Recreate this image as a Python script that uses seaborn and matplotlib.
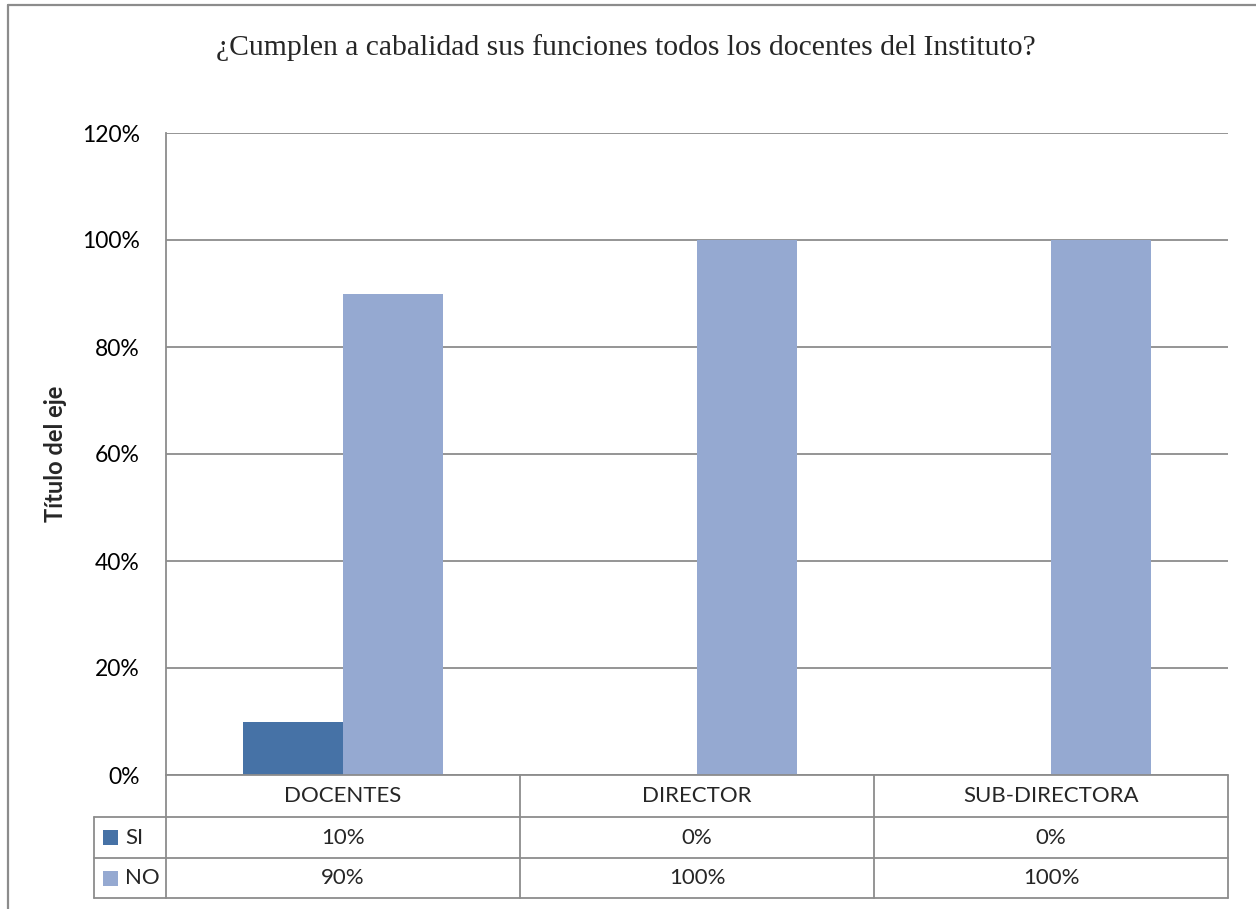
import matplotlib
matplotlib.use("Agg")
import matplotlib.pyplot as plt
import matplotlib.transforms as mtransforms
from matplotlib.lines import Line2D
from matplotlib.patches import Rectangle
from matplotlib.ticker import PercentFormatter
import pandas as pd
import seaborn as sns

# data
categorias = ["DOCENTES", "DIRECTOR", "SUB-DIRECTORA"]
series = ["SI", "NO"]
valores_si = [0.10, 0.0, 0.0]
valores_no = [0.90, 1.0, 1.0]
colores = ["#4672A6", "#95A9D1"]

df = pd.DataFrame({
    "categoria": categorias * 2,
    "serie": ["SI"] * 3 + ["NO"] * 3,
    "valor": valores_si + valores_no,
})

sns.set_style("white")
plt.rcParams["font.family"] = ["Lato", "DejaVu Sans"]

grid_color = "#8C8C8C"
W, H = 1256, 909
fig = plt.figure(figsize=(W / 100, H / 100), dpi=100)
ax = fig.add_axes([166 / W, 1 - 775 / H, (1228 - 166) / W, (775 - 133) / H])

sns.barplot(data=df, x="categoria", y="valor", hue="serie", order=categorias,
            hue_order=series, palette=colores, saturation=1, width=0.566,
            edgecolor="none", linewidth=0, legend=False, ax=ax, zorder=3)

ax.set_xlim(-0.5, 2.5)
ax.set_ylim(0, 1.2)
ax.set_yticks([0, 0.2, 0.4, 0.6, 0.8, 1.0, 1.2])
ax.yaxis.set_major_formatter(PercentFormatter(1.0, decimals=0))
ax.tick_params(axis="y", length=0, pad=19, labelsize=16.5, colors="black")
ax.tick_params(axis="x", length=0, labelbottom=False)
ax.set_xlabel("")
ax.set_ylabel("Título del eje", fontsize=17, fontweight="bold")
ax.yaxis.set_label_coords(-0.093, 0.5)
ax.grid(axis="y", color=grid_color, linewidth=1.3, zorder=0)
for side in ["top", "right", "bottom"]:
    ax.spines[side].set_visible(False)
ax.spines["left"].set_color(grid_color)
ax.spines["left"].set_linewidth(1.3)

# data table under the axis
tr = mtransforms.blended_transform_factory(ax.transData, ax.transAxes)
px = 1 / (775 - 133)
y_top = 0.0
y_r1 = -(817 - 775) * px
y_r2 = -(858 - 775) * px
y_r3 = -(898 - 775) * px
x_lab = -0.5 - (166 - 94) / 354
line_kw = dict(color=grid_color, linewidth=1.3, transform=tr, clip_on=False, zorder=5)

ax.plot([-0.5, 2.5], [y_top, y_top], **line_kw)
for yy in [y_r1, y_r2, y_r3]:
    ax.plot([x_lab, 2.5], [yy, yy], **line_kw)
for xx in [-0.5, 0.5, 1.5, 2.5]:
    ax.plot([xx, xx], [y_top, y_r3], **line_kw)
ax.plot([x_lab, x_lab], [y_r1, y_r3], **line_kw)

fs = 16
for i, cat in enumerate(categorias):
    ax.text(i, (y_top + y_r1) / 2, cat, transform=tr, ha="center", va="center", fontsize=fs)
    ax.text(i, (y_r1 + y_r2) / 2, f"{valores_si[i]:.0%}", transform=tr,
            ha="center", va="center", fontsize=fs)
    ax.text(i, (y_r2 + y_r3) / 2, f"{valores_no[i]:.0%}", transform=tr,
            ha="center", va="center", fontsize=fs)

key_w = 15 / 354
key_h = 15 * px
for name, col, y0, y1 in [("SI", colores[0], y_r1, y_r2), ("NO", colores[1], y_r2, y_r3)]:
    ym = (y0 + y1) / 2
    ax.add_patch(Rectangle((x_lab + 9 / 354, ym - key_h / 2), key_w, key_h,
                           facecolor=col, edgecolor="none", transform=tr, clip_on=False))
    ax.text(x_lab + 31 / 354, ym, name, transform=tr, ha="left", va="center", fontsize=fs)

# title and outer frame
fig.text(626 / W, 1 - 48 / H, "¿Cumplen a cabalidad sus funciones todos los docentes del Instituto?",
         ha="center", va="center", fontsize=21.3, family="Liberation Serif")
fig.add_artist(Line2D([8 / W, 1], [1 - 5 / H, 1 - 5 / H], color=grid_color, linewidth=1.6))
fig.add_artist(Line2D([8 / W, 8 / W], [0, 1 - 5 / H], color=grid_color, linewidth=1.6))

fig.savefig("out.png", dpi=100)
